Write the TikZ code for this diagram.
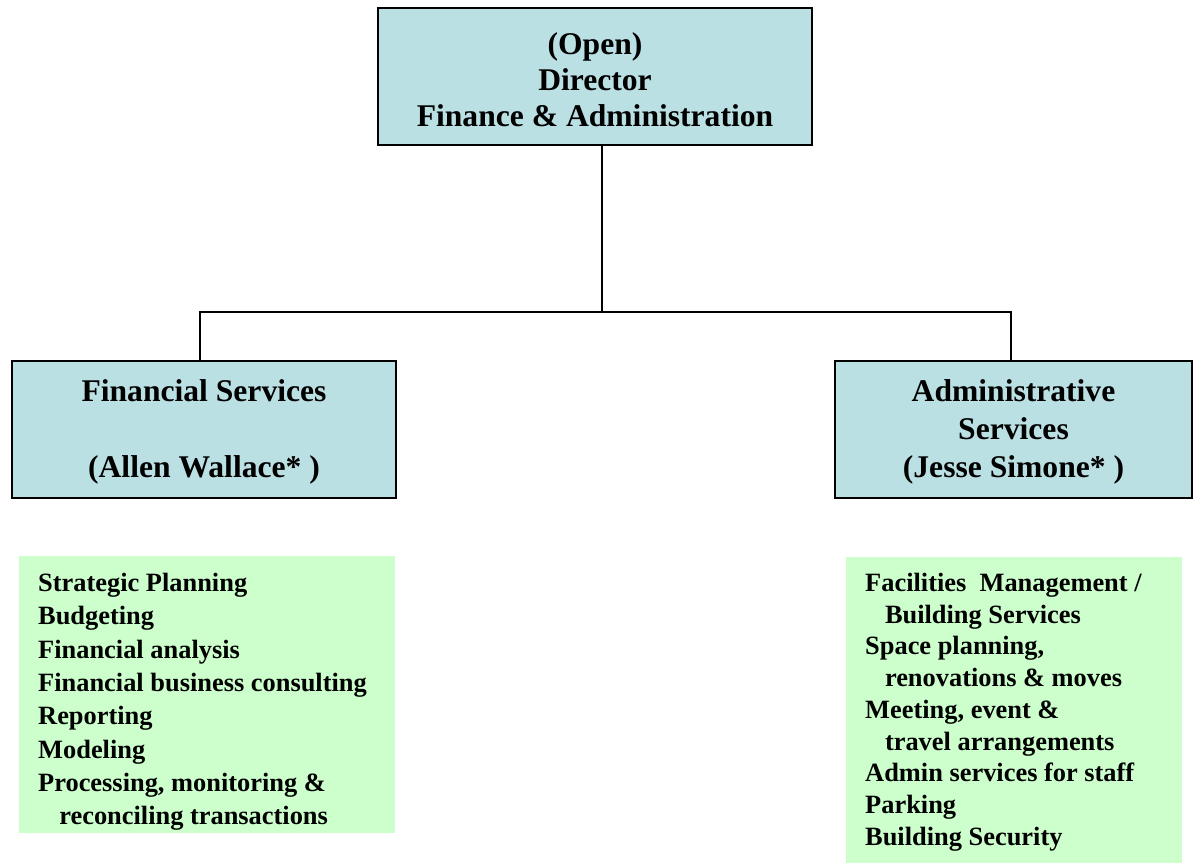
\documentclass[tikz,border=0pt]{standalone}
\usepackage{fontspec}
\setmainfont{Liberation Serif}
\definecolor{boxblue}{RGB}{187,224,227}
\definecolor{boxgreen}{RGB}{204,255,204}
\tikzset{
  unitbox/.style={draw=black, line width=2.5pt, fill=boxblue, inner sep=0pt},
  unittext/.style={align=center, inner sep=0pt, font=\bfseries\fontsize{31.6}{36}\selectfont},
  listbox/.style={fill=boxgreen, draw=none, anchor=north west, inner sep=0pt},
  listtext/.style={anchor=north west, align=left, inner sep=0pt,
    font=\bfseries\fontsize{26.4}{33.3}\selectfont},
  conn/.style={draw=black, line width=2pt}
}
\begin{document}
\begin{tikzpicture}[x=1pt,y=-1pt]
\useasboundingbox (0,0) rectangle (1203,863);
% boxes
\node[unitbox, minimum width=434pt, minimum height=137pt] (top) at (595,76.5) {};
\node[unittext] (toptext) at (595,80) {(Open)\\ Director\\ Finance \& Administration};
\node[unitbox, minimum width=384pt, minimum height=137pt] (lbox) at (204,429.5) {};
\node[unittext, font=\bfseries\fontsize{31.6}{38}\selectfont] (ltext) at (204,432)
  {Financial Services\\[38pt] (Allen Wallace* )};
\node[unitbox, minimum width=357pt, minimum height=137pt] (rbox) at (1013.5,429.5) {};
\node[unittext, font=\bfseries\fontsize{31.6}{38}\selectfont] (rtext) at (1013.5,432)
  {Administrative\\ Services\\ (Jesse Simone* )};
% connectors
\coordinate (j) at (602,312);
\draw[conn] ([xshift=7pt]top.south) -- (j);
\draw[conn] ([xshift=-4pt]lbox.north) |- (j) -| ([xshift=-2.5pt]rbox.north);
% lists
\node[listbox, minimum width=376pt, minimum height=277pt] (llist) at (19,556) {};
\node[listtext] (llisttext) at (38,573)
  {Strategic Planning\\
   Budgeting\\
   Financial analysis\\
   Financial business consulting\\
   Reporting\\
   Modeling\\
   Processing, monitoring \&\\
   \hspace*{0.8em}reconciling transactions};
\node[listbox, minimum width=336pt, minimum height=306pt] (rlist) at (846,557) {};
\node[listtext, font=\bfseries\fontsize{26.4}{31.7}\selectfont] (rlisttext) at (865,573)
  {Facilities\ \ Management /\\
   \hspace*{0.75em}Building Services\\
   Space planning,\\
   \hspace*{0.75em}renovations \& moves\\
   Meeting, event \&\\
   \hspace*{0.75em}travel arrangements\\
   Admin services for staff\\
   Parking\\
   Building Security};
\end{tikzpicture}
\end{document}
